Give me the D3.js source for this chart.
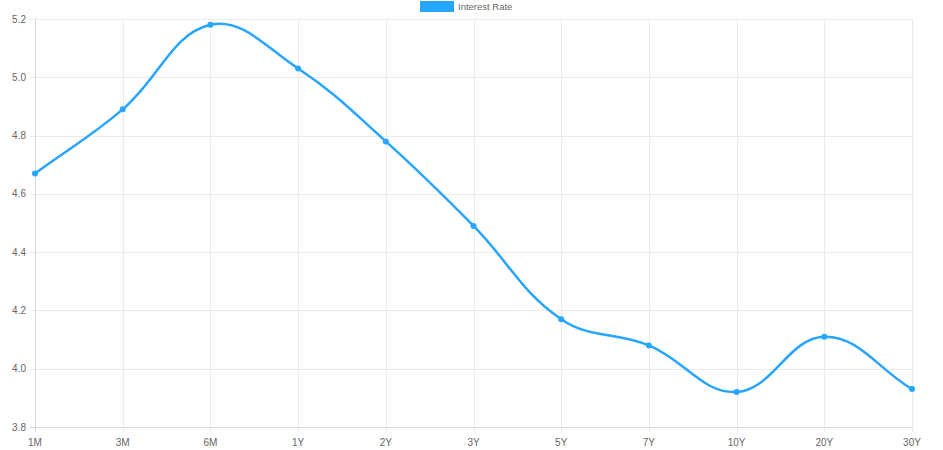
<!DOCTYPE html>
<html><head><meta charset="utf-8">
<script src="https://cdn.jsdelivr.net/npm/d3@7"></script>
<style>html,body{margin:0;padding:0;background:#fff;}svg{display:block;font-family:"Liberation Sans",Arial,Helvetica,sans-serif;}</style>
</head><body>
<svg id="c" width="943" height="450"></svg>
<script>
const categories = ["1M","3M","6M","1Y","2Y","3Y","5Y","7Y","10Y","20Y","30Y"];
const rates = [4.67,4.89,5.18,5.03,4.78,4.49,4.17,4.08,3.92,4.11,3.93];
const yTicks = [3.8,4.0,4.2,4.4,4.6,4.8,5.0,5.2];
const seriesName = "Interest Rate";

const color = "#27a5ff";
const svg = d3.select("#c");
const pLeft = 35, pRight = 912, pTop = 19, pBottom = 427;

const x = d3.scalePoint().domain(categories).range([pLeft, pRight]);
const y = d3.scaleLinear().domain([3.8, 5.2]).range([pBottom, pTop]);

// grid
const g = svg.append("g");
g.selectAll("line.h").data(yTicks).enter().append("line")
  .attr("x1", pLeft - 5).attr("x2", pRight + 1)
  .attr("y1", d => Math.round(y(d)) + 0.5).attr("y2", d => Math.round(y(d)) + 0.5)
  .attr("stroke", d => d === 3.8 ? "#d6d6d6" : "#ebebeb").attr("stroke-width", 1);
g.selectAll("line.v").data(categories).enter().append("line")
  .attr("y1", pTop).attr("y2", pBottom + 5)
  .attr("x1", d => Math.round(x(d)) + 0.5).attr("x2", d => Math.round(x(d)) + 0.5)
  .attr("stroke", (d, i) => i === 0 ? "#d6d6d6" : "#ebebeb").attr("stroke-width", 1);

// y labels
svg.append("g").selectAll("text").data(yTicks).enter().append("text")
  .attr("x", 26).attr("y", d => y(d)).attr("dy", "0.35em")
  .attr("text-anchor", "end").attr("font-size", 10).attr("fill", "#666")
  .text(d => d3.format(".1f")(d));
// x labels
svg.append("g").selectAll("text").data(categories).enter().append("text")
  .attr("x", d => x(d)).attr("y", 442).attr("dy", "0.35em")
  .attr("text-anchor", "middle").attr("font-size", 10).attr("fill", "#666")
  .text(d => d);

// Chart.js-style spline curve (tension 0.4)
function ChartJsCurve(context) { this._context = context; }
ChartJsCurve.prototype = {
  areaStart(){}, areaEnd(){},
  lineStart(){ this._pts = []; },
  point(px, py){ this._pts.push([+px, +py]); },
  lineEnd(){
    const p = this._pts, n = p.length, t = 0.4, ctx = this._context;
    if (!n) return;
    const cps = p.map((cur, i) => {
      const prev = p[Math.max(0, i - 1)], next = p[Math.min(n - 1, i + 1)];
      const d01 = Math.hypot(cur[0]-prev[0], cur[1]-prev[1]);
      const d12 = Math.hypot(next[0]-cur[0], next[1]-cur[1]);
      let s01 = d01 / (d01 + d12), s12 = d12 / (d01 + d12);
      s01 = isNaN(s01) ? 0 : s01; s12 = isNaN(s12) ? 0 : s12;
      const fa = t * s01, fb = t * s12;
      return {
        prev: [cur[0] - fa*(next[0]-prev[0]), cur[1] - fa*(next[1]-prev[1])],
        next: [cur[0] + fb*(next[0]-prev[0]), cur[1] + fb*(next[1]-prev[1])]
      };
    });
    ctx.moveTo(p[0][0], p[0][1]);
    for (let i = 1; i < n; i++) {
      ctx.bezierCurveTo(cps[i-1].next[0], cps[i-1].next[1], cps[i].prev[0], cps[i].prev[1], p[i][0], p[i][1]);
    }
  }
};
const chartJsCurve = ctx => new ChartJsCurve(ctx);

const data = categories.map((c, i) => ({c, v: rates[i]}));
const line = d3.line().x(d => x(d.c)).y(d => y(d.v)).curve(chartJsCurve);
svg.append("path").datum(data).attr("d", line)
  .attr("fill", "none").attr("stroke", color).attr("stroke-width", 2.5);
svg.append("g").selectAll("circle").data(data).enter().append("circle")
  .attr("cx", d => x(d.c)).attr("cy", d => y(d.v)).attr("r", 3)
  .attr("fill", color);

// legend
const lg = svg.append("g");
lg.append("rect").attr("x", 420).attr("y", 1).attr("width", 34).attr("height", 11).attr("fill", color);
lg.append("text").attr("x", 458).attr("y", 7).attr("dy", "0.35em")
  .attr("font-size", 9.5).attr("fill", "#666").text(seriesName);
</script>
</body></html>
